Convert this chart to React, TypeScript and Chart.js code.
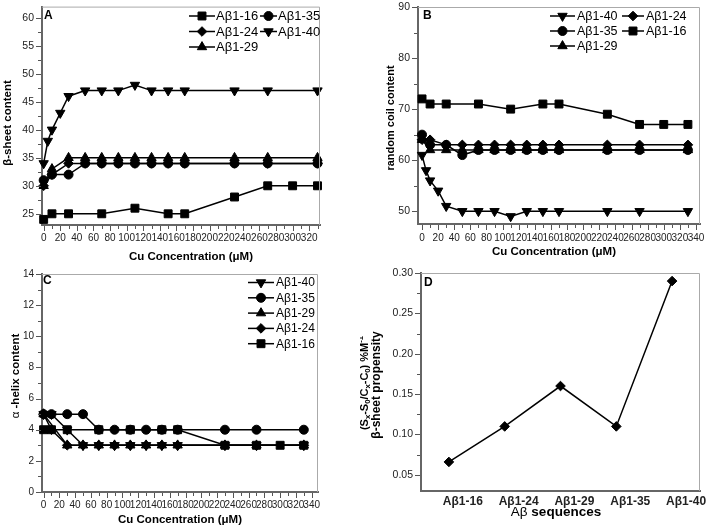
import React, { useEffect, useRef } from "react";
import { Chart, registerables } from "chart.js";
import { drawPoint } from "chart.js/helpers";

Chart.register(...registerables);

const FONT = "'Liberation Sans', Arial, sans-serif";

// ---------- Panel A : β-sheet content ----------
const cuA16 = [0, 10, 30, 70, 110, 150, 170, 230, 270, 300, 330];
const cuA40 = [0, 5, 10, 20, 30, 50, 70, 90, 110, 130, 150, 170, 230, 270, 330];
const cuStd = [0, 10, 30, 50, 70, 90, 110, 130, 150, 170, 230, 270, 330];
const betaA16 = [24, 25, 25, 25, 26, 25, 25, 28, 30, 30, 30];
const betaA40 = [34, 38, 40, 43, 46, 47, 47, 47, 48, 47, 47, 47, 47, 47, 47];
const betaA24 = [30, 32, 34, 34, 34, 34, 34, 34, 34, 34, 34, 34, 34];
const betaA29 = [30, 33, 35, 35, 35, 35, 35, 35, 35, 35, 35, 35, 35];
const betaA35 = [31, 32, 32, 34, 34, 34, 34, 34, 34, 34, 34, 34, 34];

// ---------- Panel B : random coil content ----------
const coilB16 = [72, 71, 71, 71, 70, 71, 71, 69, 67, 67, 67];
const coilB40 = [61, 58, 56, 54, 51, 50, 50, 50, 49, 50, 50, 50, 50, 50, 50];
const coilB24 = [64, 64, 63, 63, 63, 63, 63, 63, 63, 63, 63, 63, 63];
const coilB35 = [65, 63, 63, 61, 62, 62, 62, 62, 62, 62, 62, 62, 62];
const coilB29 = [64, 62, 62, 62, 62, 62, 62, 62, 62, 62, 62, 62, 62];

// ---------- Panel C : α-helix content ----------
const cuC29 = [0, 30, 50, 70, 90, 110, 130, 150, 170, 230, 270, 330];
const helixC40 = [5, 5, 4, 3, 3, 3, 3, 3, 3, 3, 3, 3, 3];
const helixC35 = [5, 5, 5, 5, 4, 4, 4, 4, 4, 4, 4, 4, 4];
const helixC29 = [5, 3, 3, 3, 3, 3, 3, 3, 3, 3, 3, 3];
const helixC24 = [5, 4, 3, 3, 3, 3, 3, 3, 3, 3, 3, 3, 3];
const helixC16 = [4, 4, 4, 4, 4, 4, 4, 3, 3, 3, 3];

// ---------- Panel D : β-sheet propensity ----------
const sequences = ["Aβ1-16", "Aβ1-24", "Aβ1-29", "Aβ1-35", "Aβ1-40"];
const propensity = [0.066, 0.11, 0.16, 0.11, 0.29];

const SERIES_STYLE: Record<string, { pointStyle: string; radius: number; rotation: number }> = {
  "Aβ1-16": { pointStyle: "rect", radius: 5.6, rotation: 0 },
  "Aβ1-24": { pointStyle: "rectRot", radius: 4.8, rotation: 0 },
  "Aβ1-29": { pointStyle: "triangle", radius: 5.4, rotation: 0 },
  "Aβ1-35": { pointStyle: "circle", radius: 4.5, rotation: 0 },
  "Aβ1-40": { pointStyle: "triangle", radius: 5.4, rotation: 180 },
};

function ds(label: string, xs: number[], ys: number[]) {
  const s = SERIES_STYLE[label];
  return {
    label,
    data: xs.map((x, i) => ({ x, y: ys[i] })),
    borderColor: "#000",
    backgroundColor: "#000",
    borderWidth: 1.5,
    pointStyle: s.pointStyle,
    pointRadius: s.radius,
    pointRotation: s.rotation,
    pointBackgroundColor: "#000",
    pointBorderColor: "#000",
    pointBorderWidth: 1,
    tension: 0,
    fill: false,
    clip: false,
  };
}

type Part = { t: string; bold?: boolean; sub?: boolean; sup?: boolean };

function drawRich(ctx: CanvasRenderingContext2D, parts: Part[], cx: number, cy: number, size: number, rotate: boolean) {
  ctx.save();
  ctx.translate(cx, cy);
  if (rotate) ctx.rotate(-Math.PI / 2);
  const fontOf = (p: Part) => `${p.bold ? "bold " : ""}${p.sub || p.sup ? size * 0.7 : size}px ${FONT}`;
  let total = 0;
  for (const p of parts) {
    ctx.font = fontOf(p);
    total += ctx.measureText(p.t).width;
  }
  let x = -total / 2;
  ctx.textBaseline = "middle";
  ctx.textAlign = "left";
  ctx.fillStyle = "#000";
  for (const p of parts) {
    ctx.font = fontOf(p);
    const dy = p.sub ? size * 0.3 : p.sup ? -size * 0.35 : 0;
    ctx.fillText(p.t, x, dy);
    x += ctx.measureText(p.t).width;
  }
  ctx.restore();
}

const decoPlugin = {
  id: "deco",
  afterDraw(chart: any, _args: any, opts: any) {
    const ctx: CanvasRenderingContext2D = chart.ctx;
    const a = chart.chartArea;
    ctx.save();
    // light frame on top and right
    ctx.strokeStyle = "#aaa";
    ctx.lineWidth = 1;
    ctx.beginPath();
    ctx.moveTo(a.left, a.top + 0.5);
    ctx.lineTo(a.right - 0.5, a.top + 0.5);
    ctx.lineTo(a.right - 0.5, a.bottom);
    ctx.stroke();
    // tick marks (major long, minor short)
    ctx.strokeStyle = "#555";
    ctx.lineWidth = 1;
    const xs = chart.scales.x;
    const ys = chart.scales.y;
    ctx.beginPath();
    for (const t of ys.ticks) {
      const p = Math.round(ys.getPixelForValue(t.value)) + 0.5;
      const len = t.label ? 5 : 3;
      ctx.moveTo(a.left - 1 - len, p);
      ctx.lineTo(a.left - 1, p);
    }
    if (!opts.noXTicks) {
      for (const t of xs.ticks) {
        const p = Math.round(xs.getPixelForValue(t.value)) + 0.5;
        const len = t.label ? 5 : 3;
        ctx.moveTo(p, a.bottom + 1);
        ctx.lineTo(p, a.bottom + 1 + len);
      }
    }
    ctx.stroke();
    // panel letter
    if (opts.letter) {
      ctx.fillStyle = "#000";
      ctx.font = `bold 12px ${FONT}`;
      ctx.textAlign = "left";
      ctx.textBaseline = "middle";
      ctx.fillText(opts.letter.t, opts.letter.x, opts.letter.y);
    }
    // legend inside the plot
    if (opts.legend) {
      const lg = opts.legend;
      const ncol = lg.cols.length;
      lg.order.forEach((name: string, i: number) => {
        const d = chart.data.datasets.find((q: any) => q.label === name);
        if (!d) return;
        const col = lg.cols[i % ncol];
        const y = lg.y0 + Math.floor(i / ncol) * lg.dy;
        ctx.strokeStyle = "#000";
        ctx.fillStyle = "#000";
        ctx.lineWidth = 1.5;
        ctx.beginPath();
        ctx.moveTo(col.x0, y);
        ctx.lineTo(col.x1, y);
        ctx.stroke();
        ctx.lineWidth = 1;
        drawPoint(ctx, { pointStyle: d.pointStyle, rotation: d.pointRotation, radius: d.pointRadius, borderWidth: 1 } as any, (col.x0 + col.x1) / 2, y);
        ctx.font = `${lg.size}px ${FONT}`;
        ctx.textAlign = "left";
        ctx.textBaseline = "middle";
        ctx.fillText(name, col.tx, y + 0.5);
      });
    }
    // axis titles
    for (const tt of opts.titles || []) {
      drawRich(ctx, tt.parts, tt.x, tt.y, tt.size, !!tt.rotate);
    }
    ctx.restore();
  },
};

type AxisSpec = {
  min: number;
  max: number;
  minor?: number;
  major?: number;
  size: number;
  pad: number;
  fontSize: number;
  bold?: boolean;
  tickValues?: number[];
  fmt?: (v: number) => string;
};

function tickList(min: number, max: number, step: number) {
  const out: { value: number }[] = [];
  const start = Math.ceil(min / step - 1e-9);
  for (let k = start; k * step <= max + 1e-9; k++) out.push({ value: +(k * step).toFixed(6) });
  return out;
}

function isMajor(v: number, major: number) {
  const r = v / major;
  return Math.abs(r - Math.round(r)) < 1e-6;
}

function axis(o: AxisSpec, pos: "left" | "bottom") {
  return {
    type: "linear",
    position: pos,
    min: o.min,
    max: o.max,
    afterBuildTicks: (s: any) => {
      s.ticks = o.tickValues ? o.tickValues.map((value) => ({ value })) : tickList(o.min, o.max, o.minor as number);
    },
    afterFit: (s: any) => {
      if (pos === "left") s.width = o.size;
      else s.height = o.size;
      s.paddingTop = 0;
      s.paddingBottom = 0;
      s.paddingLeft = 0;
      s.paddingRight = 0;
    },
    grid: { display: false, drawOnChartArea: false, drawTicks: false, tickLength: 0 },
    border: { display: true, color: "#666", width: 2 },
    title: { display: false },
    ticks: {
      autoSkip: false,
      maxRotation: 0,
      minRotation: 0,
      padding: o.pad,
      color: "#222",
      font: { family: FONT, size: o.fontSize, weight: o.bold ? "bold" : "normal" },
      callback: (v: number) => {
        if (o.fmt) return o.fmt(v);
        return isMajor(v, o.major as number) ? String(v) : "";
      },
    },
  };
}

function lineConfig(p: { datasets: any[]; x: AxisSpec; y: AxisSpec; top: number; right: number; deco: any }) {
  return {
    type: "line",
    data: { datasets: p.datasets },
    options: {
      responsive: false,
      animation: false,
      events: [],
      layout: { padding: { top: p.top, right: p.right, left: 0, bottom: 0 } },
      plugins: { legend: { display: false }, tooltip: { enabled: false }, deco: p.deco },
      scales: { x: axis(p.x, "bottom"), y: axis(p.y, "left") },
    },
    plugins: [decoPlugin],
  } as any;
}

const cuTitle = (x: number, y: number) => ({ parts: [{ t: "Cu Concentration (μM)", bold: true }], x, y, size: 11.5 });

const makeA = () =>
  lineConfig({
    datasets: [
      ds("Aβ1-16", cuA16, betaA16),
      ds("Aβ1-35", cuStd, betaA35),
      ds("Aβ1-24", cuStd, betaA24),
      ds("Aβ1-40", cuA40, betaA40),
      ds("Aβ1-29", cuStd, betaA29),
    ],
    x: { min: -2, max: 333, minor: 10, major: 20, size: 40, pad: 7, fontSize: 10 },
    y: { min: 23, max: 62, minor: 2.5, major: 5, size: 42, pad: 8, fontSize: 10.5 },
    top: 6,
    right: 40,
    deco: {
      letter: { t: "A", x: 44, y: 16 },
      legend: {
        order: ["Aβ1-16", "Aβ1-35", "Aβ1-24", "Aβ1-40", "Aβ1-29"],
        cols: [{ x0: 189, x1: 215, tx: 216 }, { x0: 260, x1: 277, tx: 278 }],
        y0: 16,
        dy: 15.5,
        size: 13,
      },
      titles: [
        cuTitle(191, 257),
        { parts: [{ t: "β-sheet content", bold: true }], x: 8, y: 123, size: 11.5, rotate: true },
      ],
    },
  });

const makeB = () =>
  lineConfig({
    datasets: [
      ds("Aβ1-40", cuA40, coilB40),
      ds("Aβ1-24", cuStd, coilB24),
      ds("Aβ1-35", cuStd, coilB35),
      ds("Aβ1-16", cuA16, coilB16),
      ds("Aβ1-29", cuStd, coilB29),
    ],
    x: { min: -5, max: 345, minor: 10, major: 20, size: 41, pad: 8, fontSize: 10 },
    y: { min: 47.5, max: 90, minor: 5, major: 10, size: 58, pad: 8, fontSize: 10.5 },
    top: 7,
    right: 20,
    deco: {
      letter: { t: "B", x: 63, y: 16 },
      legend: {
        order: ["Aβ1-40", "Aβ1-24", "Aβ1-35", "Aβ1-16", "Aβ1-29"],
        cols: [{ x0: 190, x1: 215, tx: 217 }, { x0: 262, x1: 284, tx: 286 }],
        y0: 16,
        dy: 15,
        size: 12.5,
      },
      titles: [
        cuTitle(194, 252),
        { parts: [{ t: "random coil content", bold: true }], x: 30.5, y: 118, size: 11, rotate: true },
      ],
    },
  });

const makeC = () =>
  lineConfig({
    datasets: [
      ds("Aβ1-40", cuStd, helixC40),
      ds("Aβ1-35", cuStd, helixC35),
      ds("Aβ1-29", cuC29, helixC29),
      ds("Aβ1-24", cuStd, helixC24),
      ds("Aβ1-16", cuA16, helixC16),
    ],
    x: { min: -2, max: 348, minor: 10, major: 20, size: 38, pad: 7, fontSize: 10 },
    y: { min: 0, max: 14, minor: 1, major: 2, size: 42, pad: 8, fontSize: 10 },
    top: 9,
    right: 42,
    deco: {
      letter: { t: "C", x: 43, y: 16 },
      legend: {
        order: ["Aβ1-40", "Aβ1-35", "Aβ1-29", "Aβ1-24", "Aβ1-16"],
        cols: [{ x0: 248, x1: 274, tx: 276 }],
        y0: 17.5,
        dy: 15.3,
        size: 12,
      },
      titles: [
        cuTitle(180, 255),
        { parts: [{ t: "α" }, { t: " -helix content", bold: true }], x: 15.5, y: 111, size: 11.5, rotate: true },
      ],
    },
  });

const makeD = () =>
  lineConfig({
    datasets: [
      {
        ...ds("Aβ1-24", [1, 2, 3, 4, 5], propensity),
        label: "propensity",
      },
    ],
    x: {
      min: 0.5,
      max: 5.5,
      size: 39,
      pad: 3,
      fontSize: 12,
      bold: true,
      tickValues: sequences.map((_, i) => i + 1.25),
      fmt: (v: number) => sequences[Math.round(v - 1.25)] ?? "",
    },
    y: {
      min: 0.03,
      max: 0.3,
      minor: 0.025,
      major: 0.05,
      size: 61,
      pad: 8,
      fontSize: 10.5,
      fmt: (v: number) => (isMajor(v, 0.05) ? v.toFixed(2) : ""),
    },
    top: 8,
    right: 20,
    deco: {
      noXTicks: true,
      letter: { t: "D", x: 64, y: 18 },
      titles: [
        { parts: [{ t: "Aβ " }, { t: "sequences", bold: true }], x: 196, y: 247, size: 13.5 },
        {
          parts: [
            { t: "(S", bold: true },
            { t: "x", bold: true, sub: true },
            { t: "-S", bold: true },
            { t: "0", bold: true, sub: true },
            { t: "/C", bold: true },
            { t: "x", bold: true, sub: true },
            { t: "-C", bold: true },
            { t: "0", bold: true, sub: true },
            { t: ") %M", bold: true },
            { t: "-1", bold: true, sup: true },
          ],
          x: 5,
          y: 118,
          size: 11,
          rotate: true,
        },
        { parts: [{ t: "β-sheet propensity", bold: true }], x: 17, y: 120, size: 12, rotate: true },
      ],
    },
  });

function ChartCanvas({ left, top, make }: { left: number; top: number; make: () => any }) {
  const ref = useRef<HTMLCanvasElement | null>(null);
  useEffect(() => {
    const c = new Chart(ref.current as HTMLCanvasElement, make());
    return () => c.destroy();
  }, [make]);
  return (
    <canvas
      ref={ref}
      width={360}
      height={265}
      style={{ position: "absolute", left, top, width: "360px", height: "265px" }}
    />
  );
}

export default function App() {
  return (
    <div style={{ position: "absolute", left: 0, top: 0, width: 720, height: 530, background: "#fff", overflow: "hidden" }}>
      <ChartCanvas left={0} top={0} make={makeA} />
      <ChartCanvas left={360} top={0} make={makeB} />
      <ChartCanvas left={0} top={265} make={makeC} />
      <ChartCanvas left={360} top={265} make={makeD} />
    </div>
  );
}
